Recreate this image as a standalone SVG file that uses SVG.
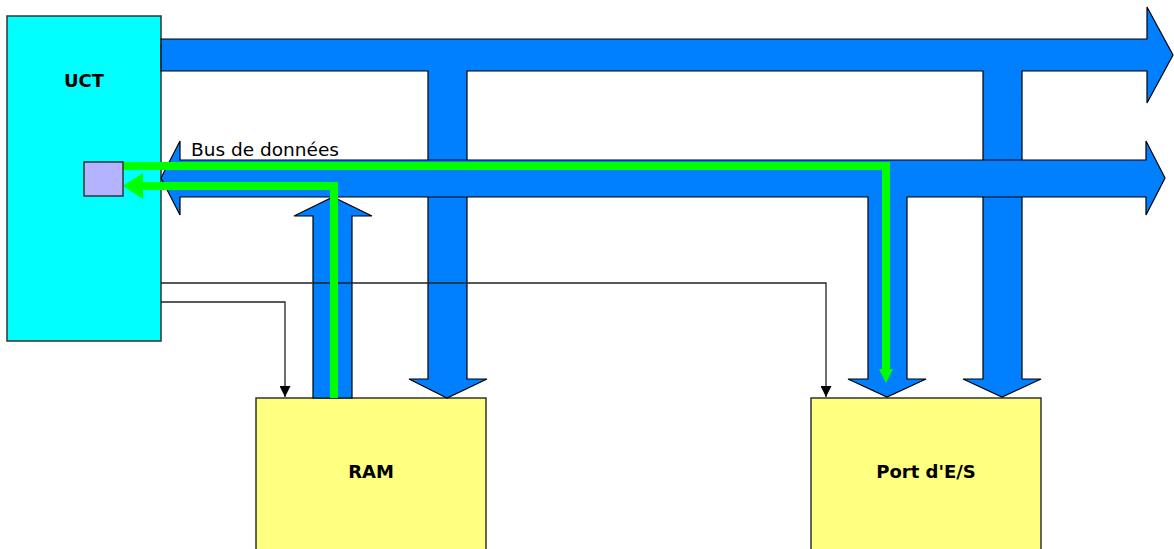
<svg xmlns="http://www.w3.org/2000/svg" width="1174" height="549" viewBox="0 0 1174 549">
<style>
.bus{fill:#0080FF;stroke:#000;stroke-width:1.2;stroke-linejoin:miter}
.box{stroke:#333;stroke-width:1.5}
.lbl{font-family:"DejaVu Sans",Verdana,sans-serif;font-weight:bold;font-size:18px;fill:#000;text-anchor:middle}
.wire{fill:none;stroke:#222;stroke-width:1.3}
.green{fill:none;stroke:#00FF00;stroke-width:8}
.gh{fill:#00FF00}
</style>
<defs>
<marker id="tri" markerWidth="11" markerHeight="11" refX="11" refY="5.5" orient="auto" markerUnits="userSpaceOnUse" viewBox="0 0 11 11">
<path d="M0,0 L11,5.5 L0,11 Z" fill="#000"/>
</marker>
</defs>
<rect width="1174" height="549" fill="#fff"/>
<g id="uct">
<rect class="box" x="7" y="16" width="154" height="325" fill="#00FFFF"/>
<text class="lbl" x="84" y="87" font-size="20">UCT</text>
</g>
<g id="ram">
<rect class="box" x="256" y="398" width="230" height="160" fill="#FFFF80"/>
<text class="lbl" x="371" y="478">RAM</text>
</g>
<g id="port">
<rect class="box" x="811" y="398" width="230" height="160" fill="#FFFF80"/>
<text class="lbl" x="926" y="478">Port d'E/S</text>
</g>
<g id="connectors">
<path class="bus" d="M161,39 L1147,39 L1147,7 L1173,55 L1147,103 L1147,71 L1022,71 L1022,379 L1041,379 L1002,397 L963,379 L983,379 L983,71 L467,71 L467,379 L487,379 L447,398 L409,379 L428,379 L428,71 L161,71 Z"/>
<path class="bus" d="M161,178 L180,141 L180,160 L1146,160 L1146,141 L1165,178 L1146,215 L1146,197 L907,197 L907,379 L926,379 L887,397 L848,379 L868,379 L868,197 L180,197 L180,215 Z"/>
<path class="bus" d="M313,398 L313,216 L294,216 L333,197 L372,216 L352,216 L352,398 Z"/>
<path class="wire" d="M161,283 L826,283 L826,397" marker-end="url(#tri)"/>
<path class="wire" d="M161,302 L285,302 L285,397" marker-end="url(#tri)"/>
<path class="green" d="M123,166 L886,166 L886,372"/>
<path class="gh" d="M879,369 L893,369 L886,383 Z"/>
<path class="green" d="M334,398 L334,186 L142,186"/>
<path class="gh" d="M143,173 L143,199 L123,186 Z"/>
<text x="191" y="156" font-family="DejaVu Sans,Verdana,sans-serif" font-size="17" textLength="148" lengthAdjust="spacingAndGlyphs" fill="#000">Bus de données</text>
</g>
<g id="register">
<rect x="84" y="162" width="39" height="34" fill="#B3B3FF" stroke="#333" stroke-width="1.5"/>
</g>
</svg>
